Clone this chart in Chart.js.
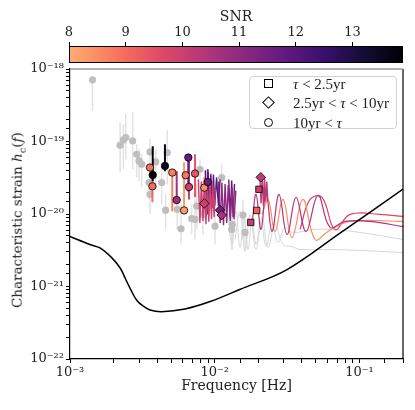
<!DOCTYPE html>
<html><head><meta charset="utf-8">
<script src="https://cdn.jsdelivr.net/npm/chart.js@4"></script>
<style>
html,body{margin:0;padding:0;background:#fff;}
#wrap{position:relative;width:415px;height:410px;overflow:hidden;font-family:"DejaVu Serif","Liberation Serif",serif;color:#222;}
canvas{position:absolute;left:0;top:0;}
#ytitle{position:absolute;left:18px;top:220px;transform:translate(-50%,-50%) rotate(-90deg);white-space:nowrap;font-size:13.5px;}
#legend{position:absolute;left:249px;top:76px;width:148px;height:53px;border:1px solid #d3d3d3;border-radius:4px;background:rgba(255,255,255,0.85);box-sizing:border-box;font-family:"Liberation Serif","DejaVu Serif",serif;font-size:15px;}
.row{position:absolute;left:43px;height:18px;line-height:18px;white-space:nowrap;}
.sym{position:absolute;box-sizing:border-box;border:1.3px solid #000;background:#fff;}
</style></head>
<body>
<div id="wrap">
<canvas id="main" width="415" height="410"></canvas>
<canvas id="cbar" width="415" height="70"></canvas>
<div id="ytitle">Characteristic strain <i>h</i><sub style="font-size:10px">c</sub>(<i>f</i>)</div>
<div id="legend">
  <div class="sym" style="left:14px;top:2px;width:9px;height:9px;"></div>
  <div class="sym" style="left:14px;top:21px;width:9px;height:9px;transform:rotate(45deg);"></div>
  <div class="sym" style="left:14px;top:41px;width:9px;height:9px;border-radius:50%;"></div>
  <div class="row" style="top:-2px;"><i>τ</i> &lt; 2.5yr</div>
  <div class="row" style="top:17px;">2.5yr &lt; <i>τ</i> &lt; 10yr</div>
  <div class="row" style="top:37px;">10yr &lt; <i>τ</i></div>
</div>
</div>
<script>
// ---------------- data ----------------
// LISA sensitivity curve
const lisaF = [1e-3, 1.37e-3, 1.61e-3, 1.94e-3, 2.22e-3, 2.43e-3, 2.64e-3, 2.90e-3, 3.19e-3, 3.57e-3, 4.3e-3, 6.23e-3, 9.3e-3, 1.49e-2, 3.14e-2, 7.3e-2, 0.2];
const lisaH = [4.9e-21, 3.8e-21, 3.4e-21, 2.5e-21, 1.8e-21, 1.25e-21, 8.9e-22, 6.4e-22, 5.4e-22, 4.75e-22, 4.5e-22, 4.9e-22, 6.2e-22, 9.1e-22, 1.7e-21, 5.4e-21, 2.2e-20];

// grey (undetected) sources with vertical ranges
const grayF  = [1.43e-3, 2.22e-3, 2.34e-3, 2.43e-3, 2.71e-3, 2.89e-3, 3.0e-3, 3.13e-3, 3.57e-3, 3.91e-3, 4.70e-3, 4.30e-3, 3.52e-3, 3.57e-3, 4.58e-3, 5.85e-3, 5.51e-3, 7.51e-3, 7.91e-3, 7.31e-3, 1.117e-2, 1.323e-2, 1.569e-2, 6.93e-3, 8.30e-3, 1.311e-2, 1.62e-2, 1.005e-2];
const grayH  = [7.1e-19, 8.9e-20, 1.05e-19, 1.136e-19, 1.02e-19, 6.67e-20, 5.39e-20, 4.86e-20, 7.18e-20, 5.22e-20, 7.05e-20, 2.71e-20, 2.71e-20, 1.87e-20, 1.13e-20, 6.26e-21, 1.16e-20, 1.29e-20, 4.14e-20, 8.42e-21, 3.18e-20, 7.18e-21, 9.66e-21, 8.61e-21, 9.87e-21, 6.12e-21, 5.57e-21, 6.8e-21];
const grayHi = [7.1e-19, 1.85e-19, 1.73e-19, 2.39e-19, 2.54e-19, 9.18e-20, 7.82e-20, 6.67e-20, 1.08e-19, 7.82e-20, 1.43e-19, 4.14e-20, 3.53e-20, 2.57e-20, 1.87e-20, 1.36e-20, 2.19e-20, 2.57e-20, 5.69e-20, 1.59e-20, 4.86e-20, 1.16e-20, 1.59e-20, 1.36e-20, 1.59e-20, 9.87e-21, 8.42e-21, 1.16e-20];
const grayLo = [2.65e-19, 3.76e-20, 4.14e-20, 5.69e-20, 4.14e-20, 3.21e-20, 2.82e-20, 2.33e-20, 2.57e-20, 2.19e-20, 2.57e-20, 1.36e-20, 1.59e-20, 9.87e-21, 6.12e-21, 3.8e-21, 6.12e-21, 6.12e-21, 1.59e-20, 4.45e-21, 9.87e-21, 3.24e-21, 4.45e-21, 5.22e-21, 5.22e-21, 3.24e-21, 3.24e-21, 3.8e-21];

// grey spectra (frequency, strain)
const grayWave1F = [1.236e-2, 1.317e-2, 1.404e-2, 1.496e-2, 1.594e-2, 1.699e-2, 1.811e-2, 1.93e-2, 2.089e-2, 2.262e-2, 2.489e-2, 2.738e-2, 3.06e-2, 3.476e-2, 4.778e-2, 6.265e-2, 0.101, 0.2];
const grayWave1H = [9.87e-21, 3.8e-21, 1.087e-20, 3.45e-21, 8.97e-21, 3.24e-21, 8.42e-21, 3.8e-21, 7.9e-21, 3.56e-21, 7.18e-21, 4.05e-21, 6.53e-21, 5.57e-21, 6.12e-21, 6.12e-21, 5.57e-21, 4.45e-21];
const grayWave2F = [1.381e-2, 1.496e-2, 1.62e-2, 1.754e-2, 1.93e-2, 2.123e-2, 2.336e-2, 2.61e-2, 2.965e-2, 3.421e-2, 3.886e-2, 6.265e-2, 0.101, 0.2];
const grayWave2H = [4.45e-21, 1.087e-20, 3.04e-21, 9.87e-21, 3.24e-21, 8.97e-21, 3.45e-21, 7.18e-21, 3.8e-21, 3.56e-21, 3.24e-21, 3.24e-21, 3.14e-21, 2.94e-21];

// detected sources: frequency, strain, SNR, range, class (0: tau<2.5yr, 1: 2.5-10yr, 2: >10yr)
const detF   = [3.73e-3, 4.53e-3, 3.57e-3, 3.71e-3, 5.09e-3, 6.57e-3, 5.46e-3, 6.14e-3, 6.30e-3, 7.31e-3, 6.64e-3, 8.47e-3, 8.95e-3, 8.47e-3, 1.088e-2, 1.117e-2, 2.08e-2, 2.02e-2, 1.95e-2, 1.774e-2];
const detH   = [3.45e-20, 4.60e-20, 4.37e-20, 2.41e-20, 3.73e-20, 6.01e-20, 1.56e-20, 1.12e-20, 3.42e-20, 3.61e-20, 2.36e-20, 2.31e-20, 2.76e-20, 1.40e-20, 1.13e-20, 9.66e-21, 3.21e-20, 2.19e-20, 1.12e-20, 7.65e-21];
const detSNR = [13.8, 13.6, 8.9, 9.0, 8.7, 11.7, 10.7, 8.3, 8.8, 9.4, 10.0, 8.5, 11.6, 9.9, 11.5, 10.6, 10.2, 10.0, 9.2, 10.1];
const detHi  = [8.61e-20, 9.18e-20, 4.37e-20, 4.14e-20, 3.73e-20, 6.01e-20, 3.88e-20, 5.18e-20, 3.42e-20, 6.67e-20, 5.69e-20, 3.21e-20, 4.14e-20, 1.40e-20, 1.13e-20, 9.66e-21, 3.21e-20, 2.19e-20, 1.12e-20, 7.65e-21];
const detLo  = [2.82e-20, 3.88e-20, 4.37e-20, 1.45e-20, 1.087e-20, 2.05e-20, 1.36e-20, 1.12e-20, 3.42e-20, 1.70e-20, 1.59e-20, 1.087e-20, 9.87e-21, 1.40e-20, 1.13e-20, 9.66e-21, 3.21e-20, 2.19e-20, 1.12e-20, 7.65e-21];
const detClass = [2, 2, 2, 2, 2, 2, 2, 2, 2, 2, 2, 2, 2, 1, 1, 1, 1, 0, 0, 0];

// coloured spectra of detected sources
const spec1F = [0.0077, 0.0079, 0.0081, 0.0083, 0.0085, 0.0087, 0.0089, 0.0091, 0.0093, 0.0095, 0.0097, 0.0099, 0.0101];
const spec1H = [3.0e-20, 7.5e-21, 2.8e-20, 8e-21, 2.9e-20, 7.2e-21, 2.6e-20, 7.8e-21, 2.7e-20, 8.5e-21, 2.5e-20, 9e-21, 2.2e-20];
const spec1SNR = 10.0;
const spec2F = [0.0086, 0.0088, 0.0090, 0.0092, 0.0094, 0.0096, 0.0098, 0.0100, 0.0103, 0.0106, 0.0109];
const spec2H = [4.0e-20, 1.2e-20, 3.8e-20, 1.1e-20, 3.6e-20, 1.2e-20, 3.5e-20, 1.3e-20, 3.2e-20, 1.3e-20, 3.0e-20];
const spec2SNR = 11.9;
const spec3F = [0.0106, 0.0109, 0.0112, 0.0115, 0.0118, 0.0121, 0.0124, 0.0128, 0.0132, 0.0136, 0.014];
const spec3H = [2.8e-20, 7.5e-21, 2.7e-20, 7.0e-21, 2.6e-20, 7.5e-21, 2.5e-20, 8e-21, 2.3e-20, 8.5e-21, 2.1e-20];
const spec3SNR = 11.0;
const spec4F = [0.0205, 0.0209, 0.0213, 0.0217, 0.0221, 0.0225, 0.0229, 0.0233];
const spec4H = [3.4e-20, 1.4e-20, 3.3e-20, 1.3e-20, 3.1e-20, 1.4e-20, 2.8e-20, 1.5e-20];
const spec4SNR = 10.2;
const spec5F = [0.0125, 0.0128, 0.0131, 0.0134, 0.0137];
const spec5H = [3.0e-20, 9e-21, 2.9e-20, 9e-21, 2.6e-20];
const spec5SNR = 11.8;
const trace1F = [1.811e-2, 1.93e-2, 2.089e-2, 2.262e-2, 2.489e-2, 2.782e-2, 3.16e-2, 3.647e-2, 4.275e-2, 5.174e-2, 6.265e-2, 7.95e-2, 0.1184, 0.2];
const trace1H = [7.18e-21, 1.87e-20, 6.12e-21, 2.05e-20, 5.74e-21, 1.87e-20, 5.22e-21, 1.70e-20, 5.74e-21, 1.81e-20, 6.53e-21, 7.9e-21, 7.9e-21, 6.7e-21];
const trace1SNR = 10.4;
const trace2F = [2.123e-2, 2.336e-2, 2.61e-2, 2.965e-2, 3.421e-2, 4.076e-2, 4.934e-2, 6.067e-2, 8.61e-2, 0.2];
const trace2H = [9.87e-21, 1.59e-20, 5.74e-21, 1.59e-20, 4.74e-21, 1.59e-20, 4.45e-21, 5.74e-21, 7.9e-21, 7.9e-21];
const trace2SNR = 8.5;
const trace3F = [3.886e-2, 4.556e-2, 5.515e-2, 6.78e-2, 8.61e-2, 0.1388, 0.2];
const trace3H = [6.12e-21, 1.59e-20, 1.70e-20, 6.12e-21, 9.87e-21, 9.87e-21, 9.26e-21];
const trace3SNR = 9.8;

// axes / colour bar
const xMin = 1e-3, xMax = 0.2, yMin = 1e-22, yMax = 1e-18;
const snrMin = 8, snrMax = 13.89;
const snrTicks = [8, 9, 10, 11, 12, 13];

// ---------------- colour map (reversed magma) ----------------
const magmaT = [0, 0.1, 0.2, 0.3, 0.4, 0.5, 0.6, 0.7, 0.8, 0.9];
const magmaHex = ['#000004','#140e36','#3b0f70','#641a80','#8c2981','#b73779','#de4968','#f7705c','#fe9f6d','#fecf92'];
const tAtMin = 0.83;
function hex2rgb(h){return [parseInt(h.slice(1,3),16),parseInt(h.slice(3,5),16),parseInt(h.slice(5,7),16)];}
function snrColor(s){
  let t = tAtMin*(snrMax - s)/(snrMax - snrMin);
  t = Math.max(0, Math.min(0.9, t));
  let i = Math.min(magmaT.length-2, Math.floor(t/0.1));
  const u = (t - magmaT[i])/0.1;
  const a = hex2rgb(magmaHex[i]), b = hex2rgb(magmaHex[i+1]);
  const c = a.map((v,k)=>Math.round(v + (b[k]-v)*u));
  return 'rgb('+c.join(',')+')';
}

const sup = {'-':'⁻','0':'⁰','1':'¹','2':'²','3':'³','4':'⁴','5':'⁵','6':'⁶','7':'⁷','8':'⁸','9':'⁹'};
function pow10Label(v){
  const e = Math.log10(v), r = Math.round(e);
  if (Math.abs(e - r) > 1e-6) return '';
  return '10' + String(r).split('').map(c=>sup[c]).join('');
}
const pts = (F,H)=>F.map((f,i)=>({x:f,y:H[i]}));

Chart.defaults.font.family = "'DejaVu Serif','Liberation Serif',serif";
Chart.defaults.color = '#222';

// ---------------- datasets ----------------
const datasets = [];
const gErr = [];
grayF.forEach((f,i)=>{ gErr.push({x:f,y:grayHi[i]},{x:f,y:grayLo[i]},{x:f,y:null}); });
datasets.push({data:gErr, showLine:true, spanGaps:false, borderColor:'#e2e2e2', borderWidth:1.5, pointRadius:0, order:10});
[[grayWave1F,grayWave1H],[grayWave2F,grayWave2H]].forEach(([F,H])=>{
  datasets.push({data:pts(F,H), showLine:true, borderColor:'#d6d6d6', borderWidth:1, pointRadius:0, tension:0.4, order:9});
});
datasets.push({data:pts(grayF,grayH), pointRadius:3.6, pointBackgroundColor:'#bebebe', pointBorderWidth:0, order:8});

detF.forEach((f,i)=>{
  if (detHi[i] !== detLo[i]) {
    datasets.push({data:[{x:f,y:detHi[i]},{x:f,y:detLo[i]}], showLine:true, borderColor:snrColor(detSNR[i]), borderWidth:2, pointRadius:0, order:7});
  }
});
[[spec1F,spec1H,spec1SNR],[spec2F,spec2H,spec2SNR],[spec3F,spec3H,spec3SNR],[spec4F,spec4H,spec4SNR],[spec5F,spec5H,spec5SNR]].forEach(([F,H,s])=>{
  datasets.push({data:pts(F,H), showLine:true, borderColor:snrColor(s), borderWidth:1.4, pointRadius:0, tension:0, order:6});
});
[[trace1F,trace1H,trace1SNR],[trace2F,trace2H,trace2SNR],[trace3F,trace3H,trace3SNR]].forEach(([F,H,s])=>{
  datasets.push({data:pts(F,H), showLine:true, borderColor:snrColor(s), borderWidth:1.2, pointRadius:0, tension:0.4, order:5});
});
datasets.push({data:pts(lisaF,lisaH), showLine:true, borderColor:'#000', borderWidth:1.5, pointRadius:0, tension:0.35, order:2});

const shapes = ['rect','rectRot','circle'];
const radii = [4.5, 4.8, 3.7];
[0,1,2].forEach(c=>{
  const idx = detClass.map((v,i)=>v===c?i:-1).filter(i=>i>=0);
  datasets.push({
    data: idx.map(i=>({x:detF[i], y:detH[i]})),
    pointStyle: shapes[c], pointRadius: radii[c],
    pointBackgroundColor: idx.map(i=>snrColor(detSNR[i])),
    pointBorderColor:'#000', pointBorderWidth:0.8, order:1
  });
});

const framePlugin = {
  id:'frame',
  afterDatasetsDraw(chart){
    const a = chart.chartArea, ctx = chart.ctx;
    ctx.save();
    ctx.lineWidth = 1.2;
    ctx.strokeStyle = '#000';
    ctx.beginPath();
    ctx.moveTo(a.right, a.top); ctx.lineTo(a.right, a.bottom);
    ctx.stroke();
    ctx.strokeStyle = '#9a9a9a';
    ctx.lineWidth = 1.6;
    ctx.beginPath();
    ctx.moveTo(a.left, a.top); ctx.lineTo(a.right, a.top);
    ctx.stroke();
    ctx.restore();
  }
};

new Chart(document.getElementById('main'), {
  type:'scatter',
  data:{datasets},
  options:{
    responsive:false, animation:false, devicePixelRatio:1,
    layout:{padding:{left:0,right:12,top:69,bottom:0}},
    plugins:{legend:{display:false}, tooltip:{enabled:false}},
    scales:{
      x:{type:'logarithmic', min:xMin, max:xMax,
        afterFit(s){ s.height = 51; },
        border:{display:true,color:'#000',width:1.2},
        grid:{drawOnChartArea:false, drawTicks:true, tickLength:4, color:'#000'},
        ticks:{autoSkip:false, maxRotation:0, padding:2, font:{size:13}, callback:(v)=>pow10Label(v)},
        title:{display:true, text:'Frequency [Hz]', font:{size:14}, padding:{top:0,bottom:15}}
      },
      y:{type:'logarithmic', min:yMin, max:yMax,
        afterFit(s){ s.width = 70; },
        border:{display:true,color:'#000',width:1.2},
        grid:{drawOnChartArea:false, drawTicks:true, tickLength:4, color:'#000'},
        ticks:{autoSkip:false, padding:2, font:{size:13}, callback:(v)=>pow10Label(v)}
      }
    }
  },
  plugins:[framePlugin]
});

// ---------------- colour bar ----------------
const cbarPlugin = {
  id:'cbarFill',
  beforeDatasetsDraw(chart){
    const a = chart.chartArea, ctx = chart.ctx, sx = chart.scales.x;
    const g = ctx.createLinearGradient(a.left, 0, a.right, 0);
    for (let k=0;k<=40;k++){
      const s = snrMin + (snrMax-snrMin)*k/40;
      g.addColorStop((sx.getPixelForValue(s)-a.left)/(a.right-a.left), snrColor(s));
    }
    ctx.save();
    ctx.fillStyle = g;
    ctx.fillRect(a.left, a.top, a.right-a.left, a.bottom-a.top);
    ctx.strokeStyle = '#000'; ctx.lineWidth = 1;
    ctx.strokeRect(a.left+0.5, a.top+0.5, a.right-a.left-1, a.bottom-a.top-1);
    ctx.restore();
  }
};
new Chart(document.getElementById('cbar'), {
  type:'scatter',
  data:{datasets:[{data:[]}]},
  options:{
    responsive:false, animation:false, devicePixelRatio:1,
    layout:{padding:{left:69,right:12,top:0,bottom:7}},
    plugins:{legend:{display:false}, tooltip:{enabled:false}},
    scales:{
      x:{type:'linear', position:'top', min:snrMin, max:snrMax,
        afterFit(s){ s.height = 46; },
        afterBuildTicks(s){ s.ticks = snrTicks.map(v=>({value:v})); },
        border:{display:false},
        grid:{drawOnChartArea:false, drawTicks:true, tickLength:4, color:'#000'},
        ticks:{padding:2, font:{size:13}, maxRotation:0, autoSkip:false},
        title:{display:true, text:'SNR', font:{size:14}, padding:{top:9,bottom:0}}
      },
      y:{display:false, min:0, max:1}
    }
  },
  plugins:[cbarPlugin]
});
</script>
</body></html>
